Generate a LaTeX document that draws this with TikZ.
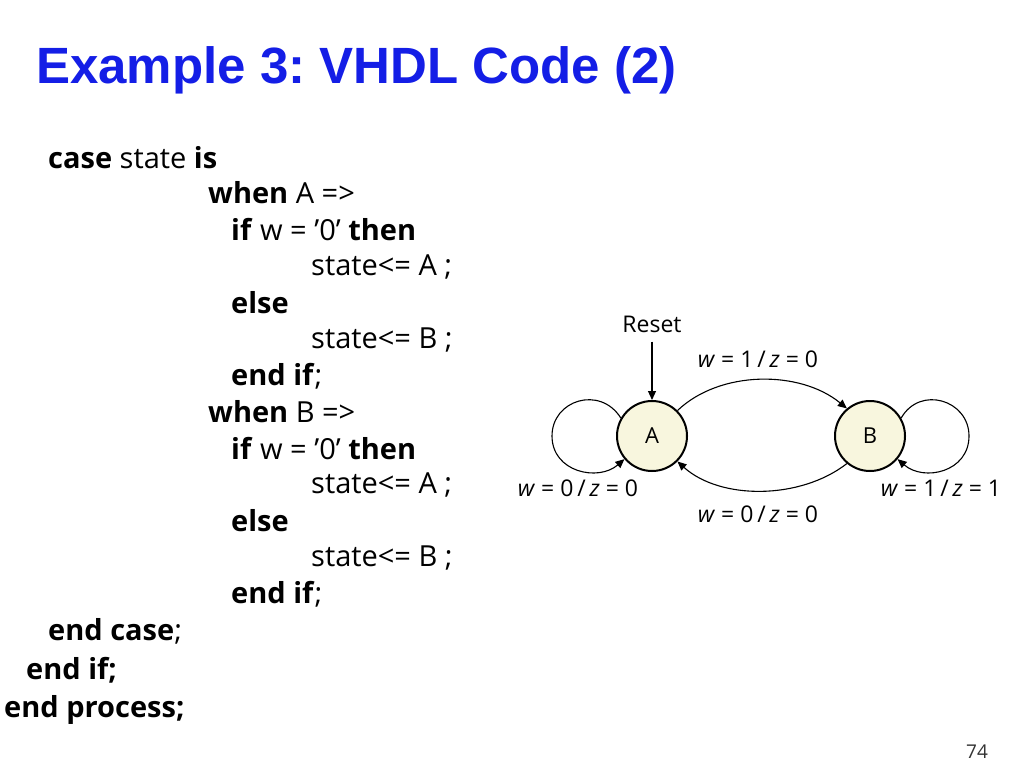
\documentclass[tikz,border=0pt]{standalone}
\usepackage{fontspec}
\setmainfont{Open Sans}
\newfontfamily\titlefont{Liberation Sans}
\usetikzlibrary{arrows.meta}
\definecolor{titleblue}{RGB}{20,30,230}
\definecolor{statefill}{RGB}{248,246,222}
\newcommand{\sq}{\char39\relax}
\frenchspacing
\begin{document}
\begin{tikzpicture}[x=1pt,y=-1pt,
  code/.style={anchor=west,inner sep=0pt,font=\fontsize{29}{32}\selectfont},
  lbl/.style={inner sep=0pt,font=\fontsize{23}{25}\selectfont},
  state/.style={circle,draw,line width=2pt,fill=statefill,minimum size=70pt,inner sep=0pt,font=\fontsize{22}{24}\selectfont},
  edge/.style={line width=1.1pt,-{Triangle[length=9pt,width=8pt]}}]
\useasboundingbox (0,0) rectangle (1024,768);
\node[anchor=west,inner sep=0pt,text=titleblue,font=\titlefont\fontsize{51}{55}\selectfont\bfseries] (title) at (36,70) {Example 3: VHDL Code (2)};
\node[code] (c1) at (48,158) {\textbf{case} state \textbf{is}};
\node[code] (c2) at (208,193) {\textbf{when} A =>};
\node[code] (c3) at (231,230) {\textbf{if} w = \sq0\sq{} \textbf{then}};
\node[code] (c4) at (311,267) {state<= A ;};
\node[code] (c5) at (231,303) {\textbf{else}};
\node[code] (c6) at (311,340) {state<= B ;};
\node[code] (c7) at (231,376) {\textbf{end if};};
\node[code] (c8) at (208,412) {\textbf{when} B =>};
\node[code] (c9) at (231,449) {\textbf{if} w = \sq0\sq{} \textbf{then}};
\node[code] (c10) at (311,485) {state<= A ;};
\node[code] (c11) at (231,521) {\textbf{else}};
\node[code] (c12) at (311,558) {state<= B ;};
\node[code] (c13) at (231,594) {\textbf{end if};};
\node[code] (c14) at (48,631) {\textbf{end case};};
\node[code] (c15) at (26,670) {\textbf{end if;}};
\node[code] (c16) at (4,710) {\textbf{end process;}};
\node[inner sep=0pt,font=\fontsize{19}{21}\selectfont,text=black!80] (pg) at (977,752) {74};

\node[state] (A) at (652,436) {A};
\node[state] (B) at (870,436) {B};
\node[lbl] (reset) at (652,324) {Reset};
\draw[edge] (reset.south)++(0,9) coordinate (rs) (rs) -- (A.north);
\draw[edge] (A.45) .. controls (720,370) and (800,370) .. (B.130);
\draw[edge] (B.-130) .. controls (800,500) and (720,500) .. (A.-45);
\draw[edge] (A.150) .. controls (600,385) and (552,400) .. (552,436) .. controls (552,472) and (598,482) .. (A.-140);
\draw[edge] (B.30) .. controls (920,385) and (969,400) .. (969,436) .. controls (969,472) and (924,482) .. (B.-40);
\node[lbl] (l1) at (758,359) {\textit{w} = 1\,/\,\textit{z} = 0};
\node[lbl] (l2) at (758,514) {\textit{w} = 0\,/\,\textit{z} = 0};
\node[lbl] (l3) at (578,488) {\textit{w} = 0\,/\,\textit{z} = 0};
\node[lbl] (l4) at (941,488) {\textit{w} = 1\,/\,\textit{z} = 1};
\end{tikzpicture}
\end{document}
